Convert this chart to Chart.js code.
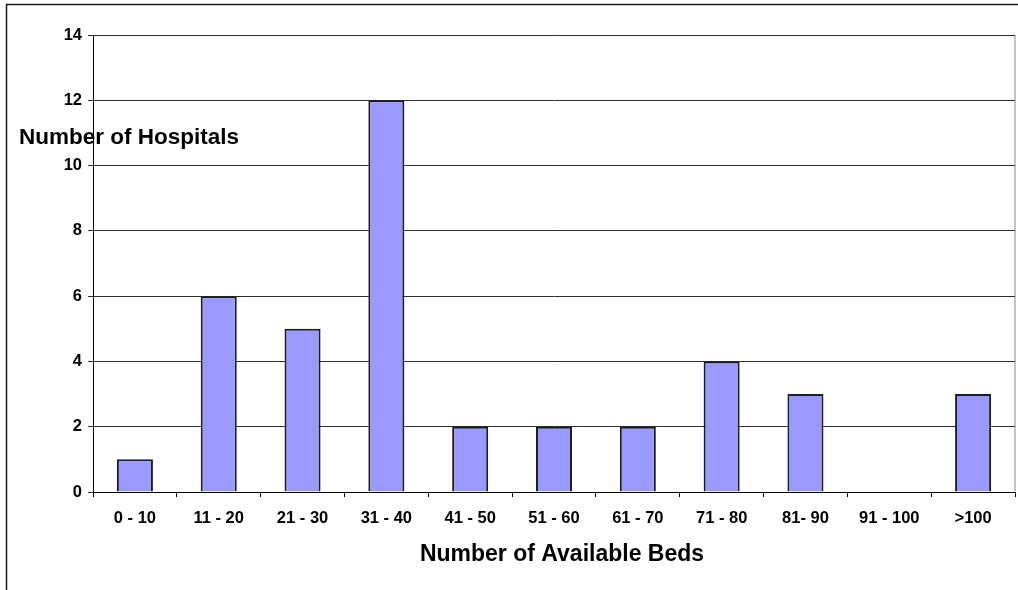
<!DOCTYPE html>
<html>
<head>
<meta charset="utf-8">
<script src="https://cdn.jsdelivr.net/npm/chart.js@4"></script>
<style>
  html, body { margin: 0; padding: 0; background: #ffffff; }
  #wrap { position: relative; width: 1018px; height: 590px; }
</style>
</head>
<body>
<div id="wrap"><canvas id="c" width="1018" height="590"></canvas></div>
<script>
// Bed-availability bands and the hospital count in each band
const bedRanges = ['0 - 10', '11 - 20', '21 - 30', '31 - 40', '41 - 50', '51 - 60',
                   '61 - 70', '71 - 80', '81- 90', '91 - 100', '>100'];
const hospitalCounts = [1, 6, 5, 12, 2, 2, 2, 4, 3, 0, 3];
const yTicks = [0, 2, 4, 6, 8, 10, 12, 14];

const xTitle = 'Number of Available Beds';
const yTitle = 'Number of Hospitals';

const FONT = '"Liberation Sans", Arial, Helvetica, sans-serif';

// Frame around the whole chart plus grey plot-area border
const framePlugin = {
  id: 'frame',
  beforeDraw(chart) {
    const ctx = chart.ctx;
    const a = chart.chartArea;
    ctx.save();
    ctx.fillStyle = '#ffffff';
    ctx.fillRect(0, 0, chart.width, chart.height);
    ctx.strokeStyle = '#1a1a1a';
    ctx.lineWidth = 1.5;
    ctx.beginPath();
    ctx.moveTo(6.5, chart.height + 2);
    ctx.lineTo(6.5, 4.5);
    ctx.lineTo(chart.width + 2, 4.5);
    ctx.stroke();
    ctx.strokeStyle = '#8c8c8c';
    ctx.lineWidth = 1;
    ctx.strokeRect(a.left + 0.5, a.top + 0.5, a.right - a.left - 0.5, a.bottom - a.top);
    ctx.restore();
  },
  afterDraw(chart) {
    const ctx = chart.ctx;
    ctx.save();
    ctx.fillStyle = '#000000';
    ctx.textBaseline = 'alphabetic';
    ctx.font = 'bold 22.5px ' + FONT;
    ctx.textAlign = 'left';
    ctx.fillText(yTitle, 19, 144);
    ctx.font = 'bold 23px ' + FONT;
    ctx.textAlign = 'center';
    ctx.fillText(xTitle, 562, 561);
    ctx.restore();
  }
};

new Chart(document.getElementById('c'), {
  type: 'bar',
  data: {
    labels: bedRanges,
    datasets: [{
      data: hospitalCounts,
      backgroundColor: '#9999ff',
      borderColor: '#1c1c1c',
      borderWidth: 2,
      borderSkipped: 'bottom',
      barPercentage: 0.43,
      categoryPercentage: 1.0
    }]
  },
  options: {
    responsive: false,
    animation: false,
    devicePixelRatio: 1,
    layout: { padding: { left: 0, top: 35, right: 3, bottom: 0 } },
    plugins: { legend: { display: false }, tooltip: { enabled: false }, title: { display: false } },
    scales: {
      x: {
        grid: {
          offset: true,
          drawOnChartArea: false,
          drawTicks: true,
          tickLength: 5,
          color: '#000000'
        },
        border: { display: true, color: '#000000', width: 1 },
        ticks: {
          color: '#000000',
          font: { family: FONT, size: 16.5, weight: 'bold' },
          padding: 12,
          maxRotation: 0,
          autoSkip: false
        },
        afterFit(scale) { scale.height = 98; }
      },
      y: {
        min: 0,
        max: 14,
        afterBuildTicks(scale) { scale.ticks = yTicks.map(v => ({ value: v })); },
        grid: {
          drawOnChartArea: true,
          drawTicks: true,
          tickLength: 5,
          color: '#2e2e2e',
          lineWidth: 1
        },
        border: { display: true, color: '#000000', width: 1 },
        ticks: {
          color: '#000000',
          font: { family: FONT, size: 16.5, weight: 'bold' },
          padding: 6
        },
        afterFit(scale) { scale.width = 93; }
      }
    }
  },
  plugins: [framePlugin]
});
</script>
</body>
</html>
